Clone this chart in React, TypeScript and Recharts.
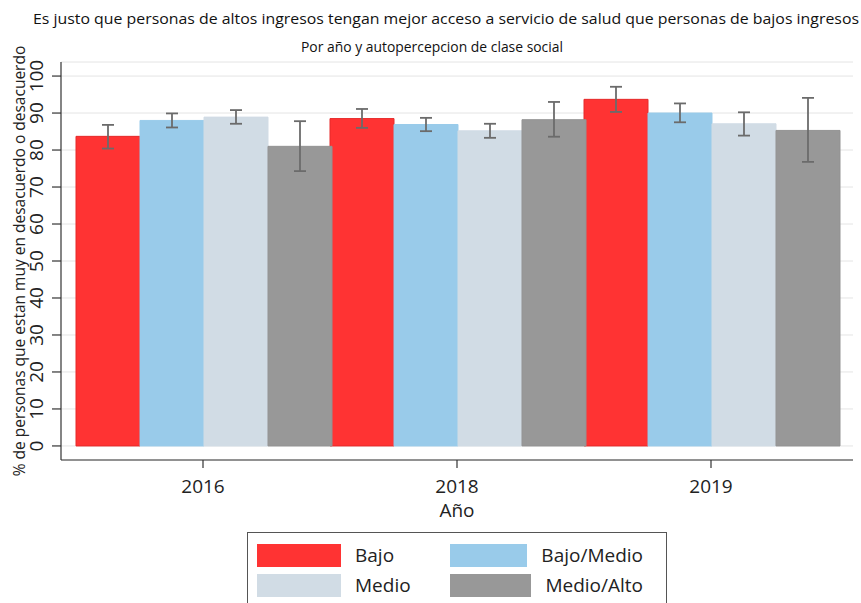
import { BarChart, Bar, XAxis, YAxis, CartesianGrid, ErrorBar, Label } from 'recharts'

const YEARS = ['2016', '2018', '2019']

// bar heights (%)
const BAJO = [83.7, 88.5, 93.7]
const BAJO_MEDIO = [88.0, 86.9, 90.0]
const MEDIO = [88.9, 85.2, 87.1]
const MEDIO_ALTO = [81.0, 88.2, 85.3]

// confidence intervals (low / high)
const BAJO_LO = [80.4, 86.0, 90.3]
const BAJO_HI = [86.8, 91.1, 97.1]
const BAJO_MEDIO_LO = [86.1, 85.1, 87.5]
const BAJO_MEDIO_HI = [89.9, 88.7, 92.6]
const MEDIO_LO = [87.1, 83.3, 83.9]
const MEDIO_HI = [90.8, 87.1, 90.2]
const MEDIO_ALTO_LO = [74.3, 83.6, 76.8]
const MEDIO_ALTO_HI = [87.8, 93.0, 94.1]

const Y_TICKS = [0, 10, 20, 30, 40, 50, 60, 70, 80, 90, 100]

const FONT = '"Open Sans", "Noto Sans", sans-serif'

const SERIES = [
  { key: 'bajo', name: 'Bajo', color: '#ff3333', stroke: '#e62a2a', values: BAJO, lo: BAJO_LO, hi: BAJO_HI },
  { key: 'bajoMedio', name: 'Bajo/Medio', color: '#99cbea', stroke: '#99cbea', values: BAJO_MEDIO, lo: BAJO_MEDIO_LO, hi: BAJO_MEDIO_HI },
  { key: 'medio', name: 'Medio', color: '#d1dce5', stroke: '#d1dce5', values: MEDIO, lo: MEDIO_LO, hi: MEDIO_HI },
  { key: 'medioAlto', name: 'Medio/Alto', color: '#989898', stroke: '#939393', values: MEDIO_ALTO, lo: MEDIO_ALTO_LO, hi: MEDIO_ALTO_HI },
]

const data = YEARS.map((year, i) => {
  const row: Record<string, any> = { year }
  for (const s of SERIES) {
    row[s.key] = s.values[i]
    // ErrorBar wants deviations [below, above]
    row[s.key + 'Err'] = [s.values[i] - s.lo[i], s.hi[i] - s.values[i]]
  }
  return row
})

function YTick({ x, y, payload }: any) {
  const cx = x - 14
  return (
    <text
      x={cx}
      y={y}
      transform={`rotate(-90, ${cx}, ${y})`}
      textAnchor="middle"
      dominantBaseline="central"
      fontSize={19}
      fontFamily={FONT}
      fill="#222"
    >
      {payload.value}
    </text>
  )
}

function LegendItem({ color, label }: { color: string; label: string }) {
  return (
    <div style={{ display: 'flex', alignItems: 'center', width: 193, height: 24 }}>
      <span style={{ display: 'inline-block', width: 84, height: 23, background: color }} />
      <span style={{ marginLeft: 14, fontSize: 19, lineHeight: '24px', color: '#222' }}>{label}</span>
    </div>
  )
}

export default function App() {
  return (
    <div
      style={{
        position: 'absolute',
        top: 0,
        left: 0,
        width: 861,
        height: 603,
        overflow: 'hidden',
        background: '#fff',
        fontFamily: FONT,
      }}
    >
      <svg width={861} height={70} style={{ position: 'absolute', top: 0, left: 0 }}>
        <text x={446} y={24} textAnchor="middle" fontSize={15} fontFamily={FONT} fill="#111" textLength={826} lengthAdjust="spacingAndGlyphs">
          Es justo que personas de altos ingresos tengan mejor acceso a servicio de salud que personas de bajos ingresos
        </text>
        <text x={432} y={52} textAnchor="middle" fontSize={15} fontFamily={FONT} fill="#111" textLength={262} lengthAdjust="spacingAndGlyphs">
          Por año y autopercepcion de clase social
        </text>
      </svg>

      <BarChart
        width={861}
        height={603}
        data={data}
        margin={{ top: 62, right: 8, bottom: 93, left: 0 }}
        barCategoryGap={0}
        barGap={0}
        style={{ position: 'absolute', top: 0, left: 0 }}
      >
        <CartesianGrid horizontal vertical={false} stroke="#e4e4e4" />
        <XAxis
          dataKey="year"
          padding={{ left: 15, right: 15 }}
          height={50}
          tickSize={8}
          tickMargin={12}
          axisLine={{ stroke: '#333', strokeWidth: 1.2 }}
          tickLine={{ stroke: '#333', strokeWidth: 1.2 }}
          tick={{ fontSize: 19, fontFamily: FONT, fill: '#222' }}
        >
          <Label
            content={({ viewBox }: any) => (
              <text
                x={viewBox.x + viewBox.width / 2}
                y={517}
                textAnchor="middle"
                fontSize={19}
                fontFamily={FONT}
                fill="#222"
              >
                Año
              </text>
            )}
          />
        </XAxis>
        <YAxis
          width={61}
          domain={[-3.8, 103.8]}
          ticks={Y_TICKS}
          interval={0}
          tickSize={9}
          axisLine={{ stroke: '#333', strokeWidth: 1.2 }}
          tickLine={{ stroke: '#333', strokeWidth: 1.2 }}
          tick={<YTick />}
        >
          <Label
            content={({ viewBox }: any) => {
              const cy = viewBox.y + viewBox.height / 2
              return (
                <text
                  x={19}
                  y={cy}
                  transform={`rotate(-90, 19, ${cy})`}
                  textAnchor="middle"
                  dominantBaseline="central"
                  fontSize={15.5}
                  fontFamily={FONT}
                  fill="#222"
                >
                  % de personas que estan muy en desacuerdo o desacuerdo
                </text>
              )
            }}
          />
        </YAxis>
        {SERIES.map(s => (
          <Bar key={s.key} dataKey={s.key} name={s.name} fill={s.color} stroke={s.stroke} isAnimationActive={false}>
            <ErrorBar
              dataKey={s.key + 'Err'}
              direction="y"
              width={6}
              stroke="#6b6b6b"
              strokeWidth={1.8}
              isAnimationActive={false}
            />
          </Bar>
        ))}
      </BarChart>

      <div
        style={{
          position: 'absolute',
          left: 247,
          top: 532,
          width: 420,
          height: 90,
          border: '1px solid #555',
          boxSizing: 'border-box',
          padding: '10px 0 0 9px',
        }}
      >
        <div style={{ display: 'flex' }}>
          <LegendItem color={SERIES[0].color} label="Bajo" />
          <LegendItem color={SERIES[1].color} label="Bajo/Medio" />
        </div>
        <div style={{ display: 'flex', marginTop: 6 }}>
          <LegendItem color={SERIES[2].color} label="Medio" />
          <LegendItem color={SERIES[3].color} label="Medio/Alto" />
        </div>
      </div>
    </div>
  )
}
